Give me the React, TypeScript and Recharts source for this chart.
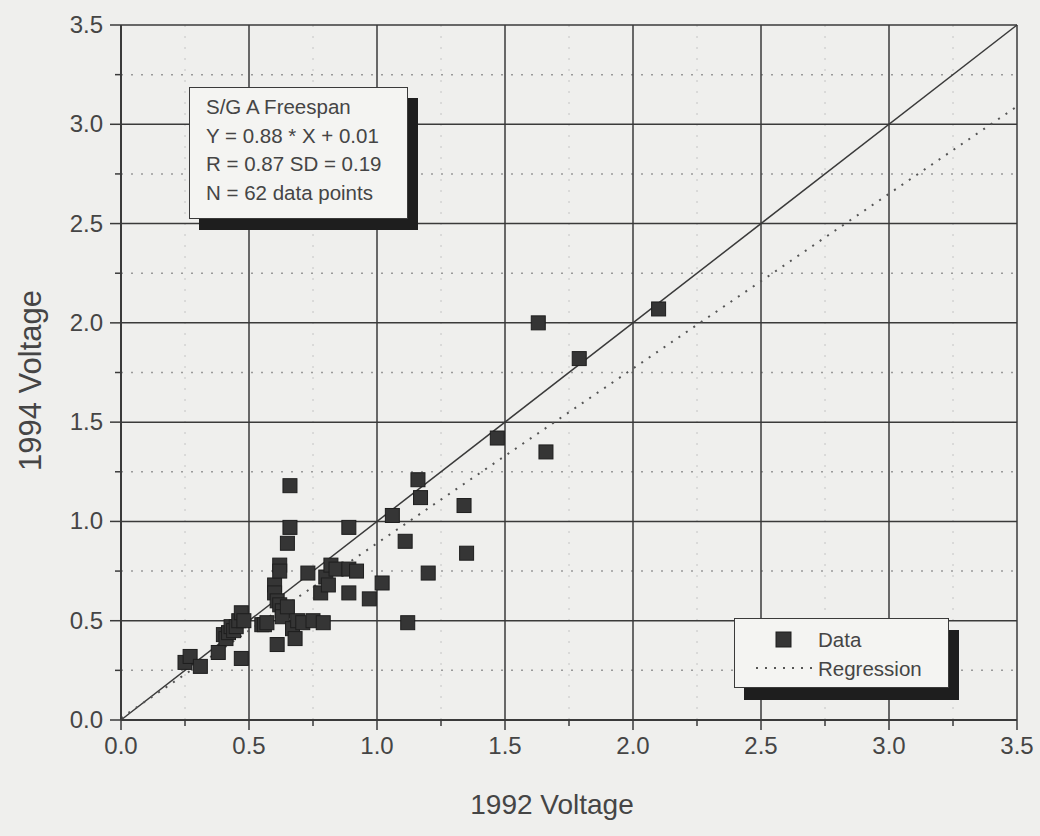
import React from "react";
import {
  ScatterChart,
  Scatter,
  XAxis,
  YAxis,
  CartesianGrid,
  ReferenceLine,
  Label,
} from "recharts";

// freespan bobbin voltages, 1992 inspection vs 1994 inspection
const voltage1992 = [
  0.25, 0.27, 0.31, 0.38, 0.4, 0.41, 0.42, 0.43, 0.44, 0.45, 0.46, 0.47, 0.47,
  0.48, 0.55, 0.56, 0.57, 0.6, 0.6, 0.61, 0.61, 0.62, 0.62, 0.62, 0.63, 0.63,
  0.65, 0.65, 0.66, 0.66, 0.67, 0.68, 0.69, 0.71, 0.73, 0.75, 0.78, 0.79, 0.8,
  0.81, 0.82, 0.84, 0.89, 0.89, 0.89, 0.92, 0.97, 1.02, 1.06, 1.11, 1.12, 1.16,
  1.17, 1.2, 1.34, 1.35, 1.47, 1.63, 1.66, 1.79, 2.1,
];
const voltage1994 = [
  0.29, 0.32, 0.27, 0.34, 0.43, 0.41, 0.44, 0.47, 0.45, 0.47, 0.5, 0.31, 0.54,
  0.5, 0.48, 0.48, 0.49, 0.68, 0.64, 0.6, 0.38, 0.78, 0.75, 0.58, 0.55, 0.52,
  0.57, 0.89, 0.97, 1.18, 0.46, 0.41, 0.5, 0.49, 0.74, 0.5, 0.64, 0.49, 0.72,
  0.68, 0.78, 0.76, 0.97, 0.64, 0.76, 0.75, 0.61, 0.69, 1.03, 0.9, 0.49, 1.21,
  1.12, 0.74, 1.08, 0.84, 1.42, 2.0, 1.35, 1.82, 2.07,
];

const majorTicks = [0, 0.5, 1, 1.5, 2, 2.5, 3, 3.5];
const minorTicks = [0.25, 0.75, 1.25, 1.75, 2.25, 2.75, 3.25];
const allTicks = [0, 0.25, 0.5, 0.75, 1, 1.25, 1.5, 1.75, 2, 2.25, 2.5, 2.75, 3, 3.25, 3.5];

const regSlope = 0.88;
const regIntercept = 0.01;
const axisMax = 3.5;

const statsLines = [
  "S/G A Freespan",
  "Y = 0.88 * X + 0.01",
  "R = 0.87 SD = 0.19",
  "N = 62 data points",
];
const legendLabels = ["Data", "Regression"];

const points = voltage1992.map((v, i) => ({ x: v, y: voltage1994[i] }));

const INK = "#3a3a3a";
const TEXT = "#454545";
const FONT = "'Liberation Sans', Arial, sans-serif";

const isMajor = (v: number) => Math.abs(v * 2 - Math.round(v * 2)) < 1e-6;

function XTick(props: any) {
  const { x, y, payload } = props;
  const major = isMajor(payload.value);
  return (
    <g>
      <line x1={x} x2={x} y1={y} y2={y + (major ? 10 : 6)} stroke={INK} strokeWidth={1.5} />
      {major && (
        <text x={x} y={y + 34} textAnchor="middle" fontSize={24} fill={TEXT} fontFamily={FONT}>
          {payload.value.toFixed(1)}
        </text>
      )}
    </g>
  );
}

function YTick(props: any) {
  const { x, y, payload } = props;
  const major = isMajor(payload.value);
  return (
    <g>
      <line x1={x} x2={x - (major ? 11 : 6)} y1={y} y2={y} stroke={INK} strokeWidth={1.5} />
      {major && (
        <text x={x - 18} y={y + 8} textAnchor="end" fontSize={24} fill={TEXT} fontFamily={FONT}>
          {payload.value.toFixed(1)}
        </text>
      )}
    </g>
  );
}

function SquareDot(props: any) {
  const { cx, cy } = props;
  const s = 14;
  return (
    <rect x={cx - s / 2} y={cy - s / 2} width={s} height={s} fill="#353535" stroke="#1e1e1e" strokeWidth={1} />
  );
}

const boxStyle: React.CSSProperties = {
  position: "absolute",
  background: "#f4f4f2",
  border: `1.5px solid ${INK}`,
  fontFamily: FONT,
  color: TEXT,
  boxSizing: "border-box",
};

export default function App() {
  return (
    <div
      style={{
        position: "absolute",
        left: 0,
        top: 0,
        width: 1040,
        height: 836,
        background: "#efefed",
      }}
    >
      <ScatterChart
        width={1040}
        height={836}
        margin={{ top: 25, right: 23, left: 21, bottom: 16 }}
      >
        <CartesianGrid
          horizontal={false}
          verticalValues={minorTicks}
          stroke="#c4c4c4"
          strokeDasharray="2 9"
        />
        <CartesianGrid
          vertical={false}
          horizontalValues={minorTicks}
          stroke="#9a9a9a"
          strokeWidth={1.5}
          strokeDasharray="2 8"
        />
        <CartesianGrid
          horizontalValues={majorTicks}
          verticalValues={majorTicks}
          stroke={INK}
          strokeWidth={1.5}
        />
        <XAxis
          type="number"
          dataKey="x"
          domain={[0, axisMax]}
          ticks={allTicks}
          interval={0}
          tickSize={0}
          tickMargin={0}
          tick={<XTick />}
          axisLine={{ stroke: INK, strokeWidth: 2 }}
          height={100}
        >
          <Label
            content={(p: any) => {
              const vb = p.viewBox;
              return (
                <text
                  x={vb.x + vb.width / 2 - 17}
                  y={vb.y + 94}
                  textAnchor="middle"
                  fontSize={28}
                  fill={TEXT}
                  fontFamily={FONT}
                >
                  1992 Voltage
                </text>
              );
            }}
          />
        </XAxis>
        <YAxis
          type="number"
          dataKey="y"
          domain={[0, axisMax]}
          ticks={allTicks}
          interval={0}
          tickSize={0}
          tickMargin={0}
          tick={<YTick />}
          axisLine={{ stroke: INK, strokeWidth: 2 }}
          width={100}
        >
          <Label
            content={(p: any) => {
              const vb = p.viewBox;
              const cx = 41;
              const cy = vb.y + vb.height / 2 + 8;
              return (
                <text
                  x={cx}
                  y={cy}
                  transform={`rotate(-90 ${cx} ${cy})`}
                  textAnchor="middle"
                  fontSize={31}
                  fill={TEXT}
                  fontFamily={FONT}
                >
                  1994 Voltage
                </text>
              );
            }}
          />
        </YAxis>
        <ReferenceLine
          segment={[
            { x: 0, y: 0 },
            { x: axisMax, y: axisMax },
          ]}
          stroke={INK}
          strokeWidth={1.5}
        />
        <ReferenceLine
          segment={[
            { x: 0, y: regIntercept },
            { x: axisMax, y: regSlope * axisMax + regIntercept },
          ]}
          stroke="#555"
          strokeWidth={2}
          strokeDasharray="2 7"
        />
        <Scatter data={points} shape={<SquareDot />} isAnimationActive={false} />
      </ScatterChart>

      <div
        style={{
          ...boxStyle,
          left: 189,
          top: 87,
          width: 219,
          height: 132,
          boxShadow: "10px 11px 0 #1e1e1e",
          padding: "5px 0 0 16px",
          fontSize: 20.5,
          lineHeight: "28.5px",
        }}
      >
        {statsLines.map((t) => (
          <div key={t} style={{ whiteSpace: "nowrap" }}>
            {t}
          </div>
        ))}
      </div>

      <div
        style={{
          ...boxStyle,
          left: 734,
          top: 618,
          width: 215,
          height: 70,
          boxShadow: "10px 12px 0 #1e1e1e",
        }}
      >
        <svg width={212} height={67} style={{ position: "absolute", left: 0, top: 0 }}>
          <rect x={41} y={13} width={15} height={15} fill="#353535" stroke="#1e1e1e" />
          <line x1={21} x2={80} y1={49} y2={49} stroke="#555" strokeWidth={2} strokeDasharray="2 7" />
          <text x={83} y={28} fontSize={20.5} fill={TEXT} fontFamily={FONT}>
            {legendLabels[0]}
          </text>
          <text x={83} y={57} fontSize={20.5} fill={TEXT} fontFamily={FONT}>
            {legendLabels[1]}
          </text>
        </svg>
      </div>
    </div>
  );
}
